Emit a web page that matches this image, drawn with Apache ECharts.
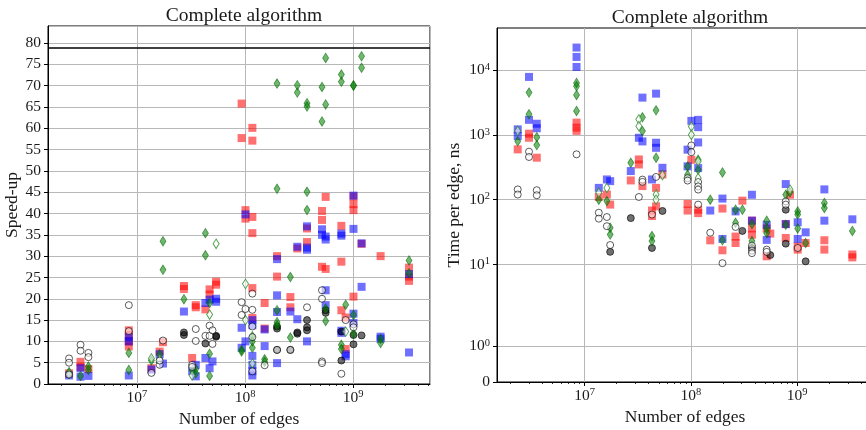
<!DOCTYPE html>
<html>
<head>
<meta charset="utf-8">
<script src="https://cdn.jsdelivr.net/npm/echarts@6/dist/echarts.min.js"></script>
<style>
  html, body { margin: 0; padding: 0; background: #fff; }
  #chart { width: 866px; height: 430px; }
</style>
</head>
<body>
<div id="chart"></div>
<script>
// Graph sizes (number of edges), one per column of points
const graphEdges = [2.35e6, 3.0e6, 3.55e6, 8.4e6, 1.36e7, 1.62e7, 1.74e7, 2.72e7, 3.24e7, 3.5e7,
    4.3e7, 4.7e7, 5.0e7, 5.4e7, 9.3e7, 1.01e8, 1.17e8, 1.52e8, 1.98e8, 2.63e8,
    3.05e8, 3.75e8, 5.16e8, 5.58e8, 7.8e8, 8.55e8, 1.01e9, 1.2e9, 1.8e9, 3.3e9];

// Speed-up, [graph index, value]
const speedRed = [[0,2.5],[1,5.2],[1,4.0],[2,3.5],[3,12.6],[3,11.5],[3,10.0],[3,8.8],[4,3.7],[5,7.6],[6,9.8],
    [7,23.0],[7,22.3],[8,6.1],[9,18.5],[9,18.0],[10,17.5],[11,22.2],[11,21.0],[13,24.0],[13,23.3],
    [14,65.8],[14,57.7],[15,40.8],[15,38.8],[16,60.1],[16,57.1],[16,39.2],[16,35.4],[16,22.5],[16,15.5],
    [17,19.0],[17,13.0],[18,30.0],[18,25.2],[19,20.4],[19,18.0],[20,31.8],[21,36.5],[21,33.3],
    [22,40.6],[22,38.5],[22,27.5],[23,43.9],[23,27.0],[24,37.1],[24,28.7],[24,17.3],[25,15.6],[25,8.2],
    [26,44.0],[26,42.2],[26,40.8],[26,20.5],[27,32.9],[28,30.0],[29,27.3],[29,25.2],[29,24.2]];
const speedBlue = [[0,2.0],[1,3.7],[1,1.7],[2,1.9],[3,11.0],[3,10.0],[3,2.0],[4,3.4],[5,7.0],[6,4.8],
    [7,17.0],[8,3.0],[9,4.5],[9,1.8],[10,19.0],[10,6.1],[11,19.8],[11,3.7],[12,5.3],[13,20.0],[13,19.3],
    [14,13.2],[14,8.5],[15,39.8],[15,10.0],[16,15.0],[16,13.8],[16,6.6],[16,4.5],[16,3.0],[16,2.0],
    [17,12.8],[17,8.9],[18,29.3],[18,20.8],[18,16.9],[18,4.9],[19,17.0],[20,32.2],[20,15.2],
    [21,37.0],[21,32.0],[21,31.5],[21,10.0],[22,36.3],[22,35.0],[23,34.6],[23,33.9],[23,22.0],[23,18.5],
    [24,35.3],[24,34.8],[24,12.5],[24,12.0],[25,7.0],[25,6.5],[26,44.2],[26,36.4],[26,16.5],[26,14.3],
    [27,33.0],[27,22.8],[28,11.1],[28,10.6],[29,25.8],[29,7.4]];
const speedGreen = [[0,2.8],[1,1.9],[2,4.1],[2,3.3],[3,7.3],[3,3.3],[4,5.5],[5,7.0],[6,33.5],[6,26.8],
    [7,19.9],[8,3.2],[9,3.5],[9,2.5],[10,35.4],[10,30.2],[11,19.0],[11,7.1],[11,1.9],[14,8.0],[14,7.6],
    [16,11.2],[16,10.0],[16,8.5],[17,5.8],[17,5.2],[18,70.5],[18,45.8],[18,17.3],[18,14.5],[18,13.8],
    [19,25.1],[19,10.9],[20,70.1],[20,68.4],[21,65.9],[21,65.1],[21,45.1],[21,40.8],[22,69.7],[22,61.6],
    [23,76.5],[23,65.6],[23,17.7],[23,14.8],[24,72.6],[24,70.9],[24,9.2],[24,8.2],[25,18.6],
    [26,70.1],[26,70.0],[26,16.2],[26,11.8],[27,76.9],[27,74.2],[28,10.6],[28,9.6],[29,29.0],[29,26.0]];
const speedGreenOpen = [[0,2.4],[4,6.0],[5,5.8],[8,2.0],[11,16.3],[13,32.9],[15,23.5],[15,15.0],[16,4.8],[25,12.3]];
const speedBlack = [[7,12.1],[7,11.5],[10,9.5],[13,11.3],[13,11.1],[18,13.0],[18,13.5],[18,8.0],[19,8.0],
    [20,12.1],[20,11.8],[21,15.0],[21,13.3],[21,12.6],[23,17.3],[23,16.7],[24,12.3],[24,5.5],
    [26,11.5],[26,9.3],[27,11.4]];
const speedOpen = [[0,6.0],[0,5.0],[0,2.2],[1,9.2],[1,7.8],[2,7.3],[2,6.3],[3,18.5],[3,12.4],[4,2.6],
    [5,4.5],[5,5.5],[6,10.2],[8,4.5],[8,4.0],[9,12.9],[9,10.1],[10,11.3],[11,13.7],[11,11.3],[12,12.6],[12,9.4],
    [14,19.2],[14,16.2],[15,17.6],[16,21.2],[16,17.4],[16,13.5],[16,11.0],[16,3.0],[17,4.4],[18,8.0],[19,8.0],
    [21,18.0],[22,22.0],[22,20.0],[22,5.3],[22,4.9],[24,2.4],[25,15.0],[26,14.0],[26,13.3]];
const speedupCeiling = 79;

// Time per edge in ns, [graph index, value]
const timeRed = [[0,596],[1,1040],[1,900],[2,444],[3,1540],[3,1290],[3,1150],[4,110],[5,120],[6,84],[7,198],
    [8,417],[8,349],[9,162],[10,68],[10,56],[11,152],[11,79],[13,245],[14,86],[14,68],[15,412],[16,70],[16,62],
    [17,23.6],[18,73],[18,16.6],[19,27],[19,21.5],[20,96.6],[21,47.5],[21,36],[21,28.8],[22,36],[22,13.4],
    [23,30],[24,42],[24,25.7],[25,119],[26,19],[26,17],[27,21.5],[28,23.7],[28,17],[29,14.3],[29,12.9]];
const timeBlue = [[0,1213],[0,955],[1,7800],[1,1700],[2,1480],[2,1260],[3,22100],[3,15850],[3,11100],[4,152],
    [5,205],[6,193],[7,276],[8,900],[9,3740],[9,790],[10,205],[11,4310],[11,755],[11,630],[13,310],[14,590],[14,326],
    [15,1640],[16,1700],[16,1310],[16,762],[16,307],[17,68],[18,104],[18,24.8],[19,66],[21,119],[21,47.5],
    [22,41],[22,24],[24,174],[24,42],[26,44.8],[26,24.8],[27,31.4],[28,144],[28,47.5],[29,49.8]];
const timeGreen = [[0,794],[1,4470],[1,2070],[2,920],[2,695],[3,6300],[3,5600],[3,4110],[3,2330],[4,100],[5,95],
    [6,37],[6,29],[7,370],[9,1860],[9,1140],[10,27.5],[10,23],[11,2380],[11,444],[14,326],[14,243],[16,412],[16,289],
    [17,100],[18,263],[18,23.7],[19,70],[19,44],[20,70],[21,42],[21,23],[22,47.5],[22,36],[22,30.7],[24,119],[24,41],
    [25,130],[26,66],[26,59],[26,36],[27,21.5],[28,89],[28,74.5],[29,33]];
const timeGreenOpen = [[0,1150],[4,128],[5,152],[8,1730],[8,1360],[11,120],[11,100],[13,240],[15,1340],[15,1000],
    [16,390],[16,215],[25,143]];
const timeBlack = [[6,15.7],[7,52],[10,18],[13,67],[20,33],[21,18],[23,14],[24,70],[24,21],[27,11.2]];
const timeOpen = [[0,144],[0,120],[1,550],[1,455],[2,140],[2,117],[3,500],[4,63],[4,51],[5,54],[5,39],[6,20],[8,110],
    [9,204],[9,188],[10,59],[11,224],[14,215],[14,197],[15,685],[15,540],[16,187],[16,160],[16,143],[16,84],[17,31],
    [18,10.5],[19,38],[21,19.6],[21,16.4],[21,15],[22,17],[22,15.7],[24,94],[24,84],[26,18]];

// Tick values
const timeTickValues = [0, 1, 10, 100, 1000, 10000];
const edgesMin = 1.5e6, edgesMax = 5.16e9;
const timeMax = 44260;

// symlog scale like matplotlib (linthresh 2, linscale 1)
const linThresh = 2, linScale = 1 / (1 - 1 / 10);
function symlog(v) {
    return v <= linThresh ? v * linScale : linThresh * (linScale + Math.log10(v / linThresh));
}
function symexp(t) {
    return t <= linThresh * linScale ? t / linScale : linThresh * Math.pow(10, t / linThresh - linScale);
}

const FONT = 'Liberation Serif';
const TXT = '#1a1a1a';
const GRIDC = '#b8b8b8';

const minorTicks = [];
for (let k = 6; k <= 9; k++) {
    for (let m = 2; m <= 9; m++) {
        const v = m * Math.pow(10, k);
        if (v > edgesMin && v < edgesMax) minorTicks.push(v);
    }
}

const rich = {
    b: { fontFamily: FONT, fontSize: 15.5, color: TXT, lineHeight: 17 },
    s: { fontFamily: FONT, fontSize: 10.5, color: TXT, verticalAlign: 'top', lineHeight: 10 }
};
function powLabel(v) {
    const e = Math.log10(v);
    if (Math.abs(e - Math.round(e)) > 1e-6) return '';
    return '{b|10}{s|' + Math.round(e) + '}';
}

const styles = {
    red: { symbol: 'rect', symbolSize: 8, itemStyle: { color: 'rgba(255,0,0,0.7)' } },
    blue: { symbol: 'rect', symbolSize: 8, itemStyle: { color: 'rgba(0,0,255,0.7)' } },
    black: { symbol: 'circle', symbolSize: 7, itemStyle: { color: 'rgba(0,0,0,0.7)', borderColor: '#000', borderWidth: 0.8 } },
    green: { symbol: 'diamond', symbolSize: [6, 9.5], itemStyle: { color: 'rgba(0,128,0,0.7)', borderColor: 'rgba(0,100,0,0.8)', borderWidth: 0.8 } },
    greenOpen: { symbol: 'diamond', symbolSize: [6, 9.5], itemStyle: { color: 'rgba(255,255,255,0.7)', borderColor: '#2a8a2a', borderWidth: 1 } },
    open: { symbol: 'circle', symbolSize: 7, itemStyle: { color: 'rgba(255,255,255,0.7)', borderColor: '#000', borderWidth: 0.8 } }
};

function scatter(pairs, style, axisIndex, transform) {
    return Object.assign({
        type: 'scatter',
        xAxisIndex: axisIndex,
        yAxisIndex: axisIndex,
        silent: true,
        data: pairs.map(p => [graphEdges[p[0]], transform ? transform(p[1]) : p[1]])
    }, style);
}

function edgesAxis(gridIndex) {
    return {
        type: 'log', logBase: 10, gridIndex: gridIndex, min: edgesMin, max: edgesMax,
        name: 'Number of edges', nameLocation: 'middle', nameGap: 26,
        nameTextStyle: { fontFamily: FONT, fontSize: 17.5, color: TXT },
        axisLine: { show: true, lineStyle: { color: '#000', width: 1 } },
        axisTick: { show: true, length: 4, lineStyle: { color: '#000', width: 1 } },
        axisLabel: { margin: 5, formatter: powLabel, rich: rich, showMinLabel: false, showMaxLabel: false },
        splitLine: { show: true, lineStyle: { color: GRIDC, width: 1 } }
    };
}
function minorAxis(gridIndex) {
    return {
        type: 'log', logBase: 10, gridIndex: gridIndex, min: edgesMin, max: edgesMax, position: 'bottom',
        axisLine: { show: false },
        axisTick: { show: true, length: 2, customValues: minorTicks, lineStyle: { color: '#000', width: 0.8 } },
        axisLabel: { show: false },
        splitLine: { show: false }
    };
}

const chart = echarts.init(document.getElementById('chart'), null, { renderer: 'canvas' });

const option = {
    animation: false,
    backgroundColor: '#fff',
    title: [
        { text: 'Complete algorithm', left: 239, textAlign: 'center', top: 1,
          textStyle: { fontFamily: FONT, fontSize: 19.5, fontWeight: 'normal', color: TXT } },
        { text: 'Complete algorithm', left: 685, textAlign: 'center', top: 3,
          textStyle: { fontFamily: FONT, fontSize: 19.5, fontWeight: 'normal', color: TXT } }
    ],
    grid: [
        { left: 48, top: 26, width: 382, height: 358, outerBoundsMode: 'none',
          show: true, borderColor: '#000', borderWidth: 1, backgroundColor: 'transparent' },
        { left: 497, top: 28, width: 376, height: 354, outerBoundsMode: 'none',
          show: true, borderColor: '#000', borderWidth: 1, backgroundColor: 'transparent' }
    ],
    xAxis: [edgesAxis(0), edgesAxis(1), minorAxis(0), minorAxis(1)],
    yAxis: [
        {
            type: 'value', gridIndex: 0, min: 0, max: 84, interval: 5,
            name: 'Speed-up', nameLocation: 'middle', nameGap: 27,
            nameTextStyle: { fontFamily: FONT, fontSize: 17.5, color: TXT },
            axisLine: { show: true, lineStyle: { color: '#000', width: 1 } },
            axisTick: { show: true, length: 4, lineStyle: { color: '#000' } },
            axisLabel: { fontFamily: FONT, fontSize: 15.5, color: TXT, margin: 7, showMaxLabel: false },
            splitLine: { show: true, lineStyle: { color: GRIDC, width: 1 } }
        },
        {
            type: 'value', gridIndex: 1, min: 0, max: symlog(timeMax),
            name: 'Time per edge, ns', nameLocation: 'middle', nameGap: 34,
            nameTextStyle: { fontFamily: FONT, fontSize: 17.5, color: TXT },
            axisLine: { show: true, lineStyle: { color: '#000', width: 1 } },
            axisTick: { show: true, length: 4, customValues: timeTickValues.map(symlog), lineStyle: { color: '#000' } },
            axisLabel: {
                margin: 7, customValues: timeTickValues.map(symlog), rich: rich,
                formatter: function (t) {
                    if (t < 1e-9) return '{b|0}';
                    return powLabel(Math.pow(10, Math.round(Math.log10(symexp(t)))));
                }
            },
            splitLine: { show: true, lineStyle: { color: GRIDC, width: 1 } }
        }
    ],
    series: [
        Object.assign(scatter(speedRed, styles.red, 0), {
            markLine: {
                silent: true, symbol: 'none', label: { show: false }, animation: false,
                lineStyle: { color: '#000', width: 1.5, type: 'solid' },
                data: [{ yAxis: speedupCeiling }]
            }
        }),
        scatter(speedBlue, styles.blue, 0),
        scatter(speedBlack, styles.black, 0),
        scatter(speedGreen, styles.green, 0),
        scatter(speedGreenOpen, styles.greenOpen, 0),
        scatter(speedOpen, styles.open, 0),
        scatter(timeRed, styles.red, 1, symlog),
        scatter(timeBlue, styles.blue, 1, symlog),
        scatter(timeBlack, styles.black, 1, symlog),
        scatter(timeGreen, styles.green, 1, symlog),
        scatter(timeGreenOpen, styles.greenOpen, 1, symlog),
        scatter(timeOpen, styles.open, 1, symlog)
    ]
};

chart.setOption(option);
</script>
</body>
</html>
